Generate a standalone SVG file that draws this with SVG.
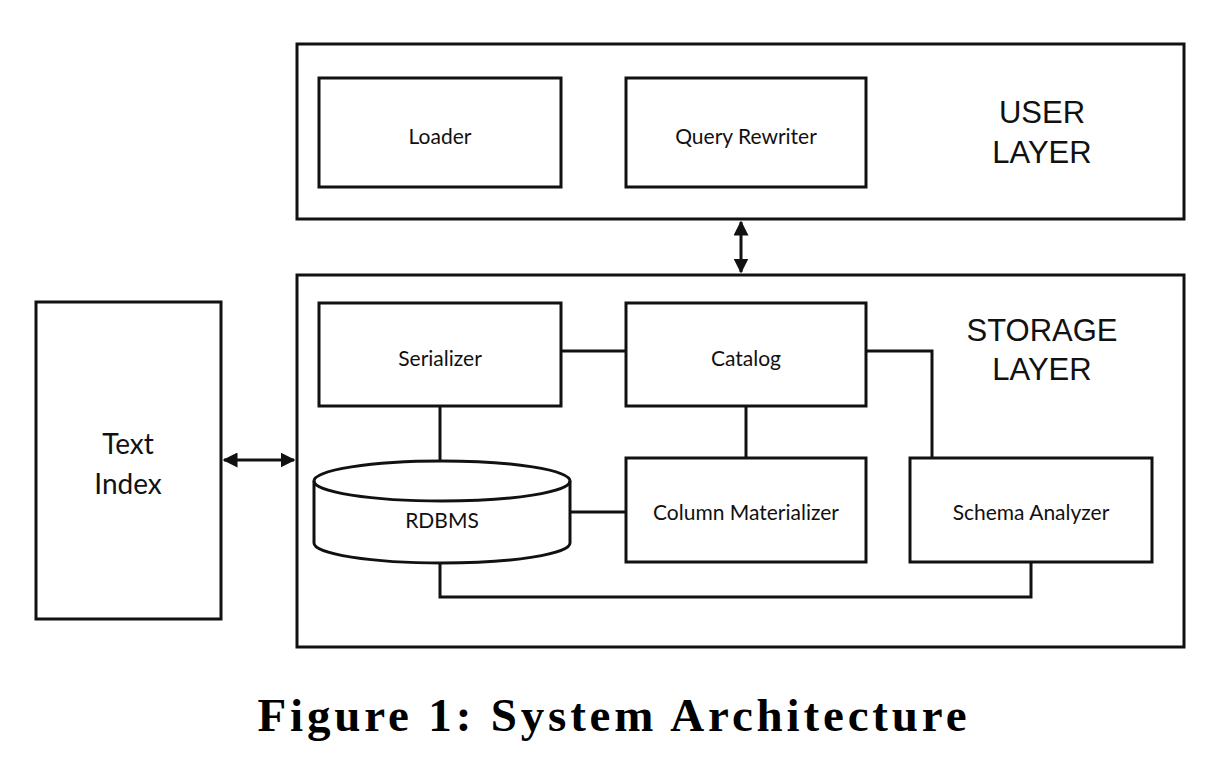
<svg xmlns="http://www.w3.org/2000/svg" width="1206" height="757" viewBox="0 0 1206 757">
<style>
.box{fill:#fff;stroke:#111;stroke-width:3}
.ln{fill:none;stroke:#111;stroke-width:3}
.lbl{font-family:Lato,"Open Sans",sans-serif;font-size:21px;fill:#111;text-anchor:middle}
.big{font-family:"Liberation Sans",Arial,sans-serif;font-size:31px;fill:#111;text-anchor:middle}
.ti{font-family:Lato,"Open Sans",sans-serif;font-size:28px;fill:#111;text-anchor:middle}
.cap{font-family:"Liberation Serif","Times New Roman",serif;font-size:47px;font-weight:bold;fill:#000;text-anchor:middle}
</style>
<defs>
<marker id="ah" viewBox="0 0 10 10" refX="9" refY="5" markerWidth="5" markerHeight="5" orient="auto-start-reverse" markerUnits="strokeWidth">
<path d="M0,0 L10,5 L0,10 Z" fill="#111"/>
</marker>
</defs>
<rect width="1206" height="757" fill="#fff"/>
<g id="user-layer">
<rect class="box" x="297" y="44" width="887" height="175"/>
<text class="big" x="1042" y="123">USER</text>
<text class="big" x="1042" y="163">LAYER</text>
</g>
<g id="loader">
<rect class="box" x="319" y="78" width="242" height="109"/>
<text class="lbl" x="440" y="144">Loader</text>
</g>
<g id="query-rewriter">
<rect class="box" x="626" y="78" width="240" height="109"/>
<text class="lbl" x="746" y="144">Query Rewriter</text>
</g>
<g id="storage-layer">
<rect class="box" x="297" y="275" width="887" height="372"/>
<text class="big" x="1042" y="341">STORAGE</text>
<text class="big" x="1042" y="380">LAYER</text>
</g>
<g id="connectors">
<line class="ln" x1="741" y1="222" x2="741" y2="272" marker-start="url(#ah)" marker-end="url(#ah)"/>
<line class="ln" x1="224" y1="460" x2="294" y2="460" marker-start="url(#ah)" marker-end="url(#ah)"/>
<line class="ln" x1="561" y1="351" x2="626" y2="351"/>
<polyline class="ln" points="866,351 932,351 932,458"/>
<line class="ln" x1="746" y1="406" x2="746" y2="458"/>
<line class="ln" x1="440" y1="406" x2="440" y2="461"/>
<line class="ln" x1="570" y1="512" x2="626" y2="512"/>
<polyline class="ln" points="440,563 440,597 1031,597 1031,562"/>
</g>
<g id="text-index">
<rect class="box" x="36" y="302" width="185" height="317"/>
<text class="ti" x="128" y="454">Text</text>
<text class="ti" x="128" y="494">Index</text>
</g>
<g id="serializer">
<rect class="box" x="319" y="303" width="242" height="103"/>
<text class="lbl" x="440" y="366">Serializer</text>
</g>
<g id="catalog">
<rect class="box" x="626" y="303" width="240" height="103"/>
<text class="lbl" x="746" y="366">Catalog</text>
</g>
<g id="rdbms">
<path class="box" d="M314,481 L314,543 A128,20 0 0 0 570,543 L570,481 A128,20 0 0 0 314,481 Z"/>
<path class="ln" d="M314,481 A128,20 0 0 0 570,481"/>
<text class="lbl" x="442" y="528">RDBMS</text>
</g>
<g id="column-materializer">
<rect class="box" x="626" y="458" width="240" height="104"/>
<text class="lbl" x="746" y="520">Column Materializer</text>
</g>
<g id="schema-analyzer">
<rect class="box" x="910" y="458" width="242" height="104"/>
<text class="lbl" x="1031" y="520">Schema Analyzer</text>
</g>
<text class="cap" x="612" y="731" textLength="709" lengthAdjust="spacing">Figure 1: System Architecture</text>
</svg>
